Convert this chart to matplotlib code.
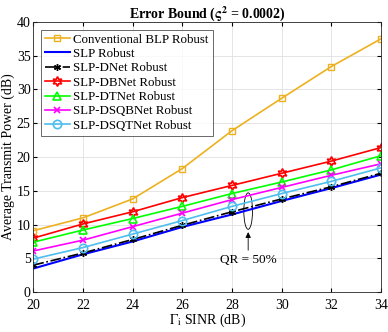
import matplotlib
matplotlib.use("Agg")
import matplotlib.pyplot as plt
from matplotlib.patches import Ellipse

plt.rcParams['font.family'] = ['Liberation Serif', 'DejaVu Serif']
plt.rcParams['mathtext.fontset'] = 'stix'

sinr = [20, 22, 24, 26, 28, 30, 32, 34]
blp = [9.1, 11.0, 13.8, 18.3, 23.9, 28.7, 33.4, 37.5]
slp = [3.5, 5.6, 7.5, 9.65, 11.5, 13.5, 15.4, 17.4]
dnet = [4.0, 5.8, 7.8, 9.9, 11.9, 13.8, 15.6, 17.6]
dbnet = [8.0, 10.1, 11.9, 14.0, 15.8, 17.6, 19.4, 21.4]
dtnet = [7.4, 9.2, 10.9, 12.7, 14.6, 16.3, 18.1, 20.2]
dsqbnet = [6.1, 7.7, 9.7, 11.7, 13.7, 15.5, 17.3, 19.0]
dsqtnet = [4.9, 6.6, 8.6, 10.6, 12.7, 14.6, 16.4, 18.4]

fig = plt.figure(figsize=(3.88, 3.32), dpi=100)
ax = fig.add_axes([0.086, 0.12, 0.896, 0.814])

lw = 1.2
ax.plot(sinr, blp, color='#EDB120', marker='s', mfc='none', ms=5, lw=lw,
        label='Conventional BLP Robust')
ax.plot(sinr, slp, color='#0000FF', lw=1.5, label='SLP Robust')
ax.plot(sinr, dnet, color='black', ls='-.', marker=(6, 2, 0), ms=5, lw=lw,
        label='SLP-DNet Robust')
ax.plot(sinr, dbnet, color='#FF0000', marker=(6, 1, 0), mfc='none', mew=1.2, ms=7, lw=lw,
        label='SLP-DBNet Robust')
ax.plot(sinr, dtnet, color='#00FF00', marker='^', mfc='none', mew=1.2, ms=6, lw=lw,
        label='SLP-DTNet Robust')
ax.plot(sinr, dsqbnet, color='#FF00FF', marker='x', mew=1.2, ms=5, lw=lw,
        label='SLP-DSQBNet Robust')
ax.plot(sinr, dsqtnet, color='#4DBEEE', marker='o', mfc='none', mew=1.2, ms=6, lw=lw,
        label='SLP-DSQTNet Robust')

ax.add_patch(Ellipse((28.65, 12.0), 0.35, 5.4, fill=False, ec='black', lw=0.6))
ax.annotate('', xy=(28.65, 9.3), xytext=(28.65, 5.8),
            arrowprops=dict(arrowstyle='-|>', color='black', lw=0.6, mutation_scale=8))
ax.text(28.65, 4.8, 'QR = 50%', ha='center', va='center', fontsize=9.5)

ax.set_xlim(20, 34)
ax.set_ylim(0, 40)
ax.set_xticks(sinr)
ax.set_yticks(range(0, 41, 5))
ax.tick_params(direction='in', labelsize=10, top=True, right=True, length=3)
ax.tick_params(axis='x', pad=5)
ax.tick_params(axis='y', pad=2)
ax.grid(True, color='#e0e0e0', lw=0.6)
ax.set_axisbelow(True)
ax.set_xlabel(r'$\Gamma_{\mathrm{i}}$ SINR (dB)', fontsize=10, labelpad=0)
ax.set_ylabel('Average Transmit Power (dB)', fontsize=10, labelpad=1)
ax.set_title(r'Error Bound ($\mathbf{\varsigma^2}$ = 0.0002)', fontsize=10, fontweight='bold', pad=3)
for s in ax.spines.values():
    s.set_color('#262626')
    s.set_linewidth(0.6)

leg = ax.legend(loc='upper left', fontsize=9.3, frameon=True, fancybox=False,
                edgecolor='#262626', handlelength=1.9, borderpad=0.3,
                labelspacing=0.18, handletextpad=0.3, borderaxespad=0.6)
leg.get_frame().set_linewidth(0.6)

fig.savefig('out.png', dpi=100)
